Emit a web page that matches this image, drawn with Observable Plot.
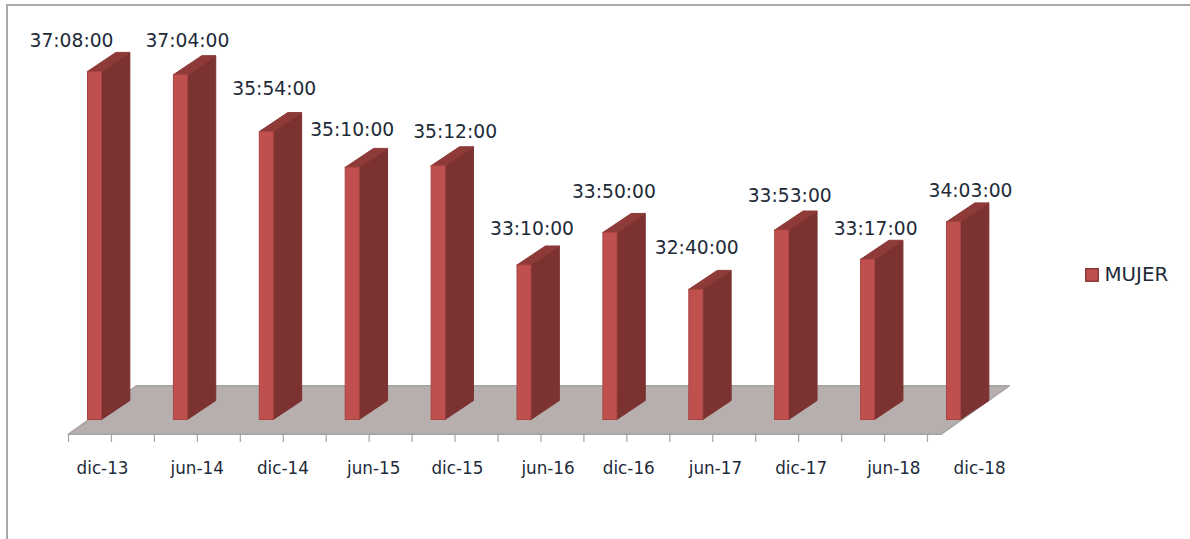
<!DOCTYPE html>
<html>
<head>
<meta charset="utf-8">
<script src="https://cdn.jsdelivr.net/npm/d3@7"></script>
<script src="https://cdn.jsdelivr.net/npm/@observablehq/plot@0.6"></script>
<style>
html,body{margin:0;padding:0;background:#fff;overflow:hidden}
#wrap{position:relative;width:1190px;height:539px}
#frame{position:absolute;left:6px;top:4px;right:0;bottom:0;border-left:2px solid #a9a9a9;border-top:2px solid #a9a9a9;pointer-events:none}
</style>
</head>
<body>
<div id="wrap"><div id="frame"></div></div>
<script>
const categories = ["dic-13","jun-14","dic-14","jun-15","dic-15","jun-16","dic-16","jun-17","dic-17","jun-18","dic-18"];
const times = ["37:08:00","37:04:00","35:54:00","35:10:00","35:12:00","33:10:00","33:50:00","32:40:00","33:53:00","33:17:00","34:03:00"];
const seriesName = "MUJER";

// Hand-placed label offsets of the original, in pixels
const labelDx = [-16,14,15,7,24,15,11,8,15,15,24];
const labelDy = [-30,-34,-43,-37,-34,-36,-40,-41,-34,-30,-31];
const tickDx = [0,7,5,8,4,7,0,-1,-3,2,0];

const hours = t => { const [h,m,s] = t.split(":").map(Number); return h + m/60 + s/3600; };
const rows = categories.map((c,i)=>({i, c, t:times[i], v:hours(times[i])}));

// 3D projection, expressed in scale units
const base = 30, barW = 0.163, depthX = 0.33, depthY = 0.389;
const poly = (id, pts) => pts.map(([x,y])=>({id,x,y}));
const front = rows.flatMap(r=>poly(r.i,[[r.i,base],[r.i+barW,base],[r.i+barW,r.v],[r.i,r.v],[r.i,base]]));
const side  = rows.flatMap(r=>poly(r.i,[[r.i+barW,base],[r.i+barW+depthX,base+depthY],[r.i+barW+depthX,r.v+depthY],[r.i+barW,r.v],[r.i+barW,base]]));
const top_  = rows.flatMap(r=>poly(r.i,[[r.i,r.v],[r.i+barW,r.v],[r.i+barW+depthX,r.v+depthY],[r.i+depthX,r.v+depthY],[r.i,r.v]]));

const fx0 = -0.221, fx1 = 9.94, fyF = 29.70, floorDx = 0.79, fyB = 30.69;
const floor = poly("f",[[fx0,fyF],[fx0+floorDx,fyB],[fx1+floorDx,fyB],[fx1,fyF],[fx0,fyF]]);
const ticks = d3.range(21).map(k=>fx0 + k*0.5);

const shape = (data,fill,stroke,sw=1)=>Plot.line(data,{x:"x",y:"y",z:"id",fill,stroke,strokeWidth:sw,curve:"linear"});
const font = "'DejaVu Sans', sans-serif";

const chart = Plot.plot({
  width:1190, height:539, margin:0,
  x:{domain:[0,10], range:[87,946], axis:null},
  y:{domain:[29,38], range:[467.8,28.6], axis:null},
  style:{background:"transparent"},
  marks:[
    shape(floor,"#b7aeae","#a6a3a3",1.5),
    Plot.ruleX(ticks,{x:d=>d,y1:fyF,y2:fyF-0.17,stroke:"#a6a6a6",strokeWidth:1.2}),
    shape(side,"#7b3230","#7b3230",1),
    shape(top_,"#8e3a38","#8e3a38",1),
    shape(front,"#c0504d","#a84543",1),
    ...rows.map((r,k)=>Plot.text([r],{
      x:"i", y:"v", text:"t", dx:labelDx[k], dy:labelDy[k],
      textAnchor:"middle", fontFamily:font, fontSize:18.7, fill:"#1e2a38"
    })),
    ...rows.map((r,k)=>Plot.text([r],{
      x:d=>0.175+d.i*1.021, y:29.0, text:"c", dx:tickDx[k],
      textAnchor:"middle", fontFamily:font, fontSize:16.8, fill:"#1e2a38"
    })),
    Plot.dot([seriesName],{frameAnchor:"top-left",dx:1091.5,dy:274.5,symbol:"square",r:7,fill:"#c0504d",stroke:"#8c3836"}),
    Plot.text([seriesName],{frameAnchor:"top-left",dx:1104,dy:274,text:d=>d,textAnchor:"start",lineAnchor:"middle",fontFamily:font,fontSize:19.8,fill:"#1e2a38"})
  ]
});
document.getElementById("wrap").prepend(chart);
</script>
</body>
</html>
